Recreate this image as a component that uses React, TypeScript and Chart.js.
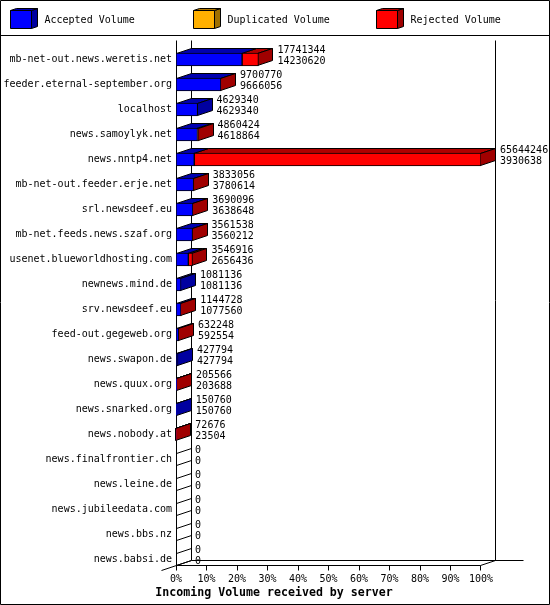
import { useEffect, useRef } from "react";
import { Chart, registerables } from "chart.js";

Chart.register(...registerables);

const servers = [
  "mb-net-out.news.weretis.net",
  "feeder.eternal-september.org",
  "localhost",
  "news.samoylyk.net",
  "news.nntp4.net",
  "mb-net-out.feeder.erje.net",
  "srl.newsdeef.eu",
  "mb-net.feeds.news.szaf.org",
  "usenet.blueworldhosting.com",
  "newnews.mind.de",
  "srv.newsdeef.eu",
  "feed-out.gegeweb.org",
  "news.swapon.de",
  "news.quux.org",
  "news.snarked.org",
  "news.nobody.at",
  "news.finalfrontier.ch",
  "news.leine.de",
  "news.jubileedata.com",
  "news.bbs.nz",
  "news.babsi.de",
];

// Upper number next to each bar
const totalVolume = [
  17741344, 9700770, 4629340, 4860424, 65644246, 3833056, 3690096, 3561538, 3546916, 1081136, 1144728,
  632248, 427794, 205566, 150760, 72676, 0, 0, 0, 0, 0,
];
// Lower number next to each bar
const acceptedVolume = [
  14230620, 9666056, 4629340, 4618864, 3930638, 3780614, 3638648, 3560212, 2656436, 1081136, 1077560,
  592554, 427794, 203688, 150760, 23504, 0, 0, 0, 0, 0,
];
const duplicatedVolume = [0, 0, 0, 0, 0, 0, 0, 0, 0, 0, 0, 0, 0, 0, 0, 0, 0, 0, 0, 0, 0];
const rejectedVolume = [
  3510724, 34714, 0, 241560, 61713608, 52442, 51448, 1326, 890480, 0, 67168, 39694, 0, 1878, 0, 49172, 0, 0, 0, 0,
  0,
];

const TITLE = "Incoming Volume received by server";
const FONT = '"DejaVu Sans Mono", monospace';
const DEPTH_X = 15;
const DEPTH_Y = 5;
const FRONT = ["#0000ff", "#ffb000", "#ff0000"];
const TOP = ["#0000b0", "#b07800", "#b00000"];
const SIDE = ["#0000a0", "#a07000", "#a00000"];

function face(ctx: CanvasRenderingContext2D, pts: number[][], fill: string) {
  ctx.beginPath();
  pts.forEach(([x, y], i) => (i ? ctx.lineTo(x, y) : ctx.moveTo(x, y)));
  ctx.closePath();
  ctx.fillStyle = fill;
  ctx.fill();
  ctx.strokeStyle = "#000";
  ctx.lineWidth = 1;
  ctx.stroke();
}

// Hide zero-length bars so they leave no stray pixels on the wall
const ifNonZero = (color: string) => (c: any) => (c.raw === 0 ? "transparent" : color);

// Walls, floor, x tick marks, frame and legend go under the bars
const backdrop = {
  id: "backdrop",
  beforeDatasetsDraw(chart: any) {
    const { ctx, chartArea, scales } = chart;
    const left = chartArea.left + 0.5;
    const right = chartArea.right - 0.5;
    const floor = chartArea.bottom - 6.5;
    const top = 40.5;
    ctx.save();
    ctx.strokeStyle = "#000";
    ctx.lineWidth = 1;
    ctx.beginPath();
    // frame
    ctx.rect(0.5, 0.5, chart.width - 1, chart.height - 1);
    ctx.moveTo(0, 35.5);
    ctx.lineTo(chart.width, 35.5);
    // left wall, back wall, right wall
    ctx.moveTo(left, top);
    ctx.lineTo(left, floor);
    ctx.moveTo(left + DEPTH_X, top);
    ctx.lineTo(left + DEPTH_X, floor - DEPTH_Y);
    ctx.moveTo(right + DEPTH_X, top);
    ctx.lineTo(right + DEPTH_X, floor - DEPTH_Y);
    // floor
    ctx.moveTo(left + DEPTH_X, floor - DEPTH_Y);
    ctx.lineTo(right + DEPTH_X + 28, floor - DEPTH_Y);
    ctx.moveTo(left - DEPTH_X, floor + DEPTH_Y);
    ctx.lineTo(left + DEPTH_X, floor - DEPTH_Y);
    ctx.moveTo(right, floor);
    ctx.lineTo(right + DEPTH_X, floor - DEPTH_Y);
    ctx.moveTo(left, floor);
    ctx.lineTo(right, floor);
    // x tick marks
    scales.x.ticks.forEach((t: any) => {
      const x = Math.round(scales.x.getPixelForValue(t.value) - 0.5) + 0.5;
      ctx.moveTo(Math.min(x, right), floor);
      ctx.lineTo(Math.min(x, right), floor + 5);
    });
    ctx.stroke();

    // legend
    ctx.font = `10px ${FONT}`;
    ctx.textBaseline = "middle";
    chart.data.datasets.forEach((ds: any, i: number) => {
      const x = [10.5, 193.5, 376.5][i];
      face(ctx, [[x + 21, 10.5], [x + 27, 8.5], [x + 27, 26.5], [x + 21, 28.5]], SIDE[i]);
      face(ctx, [[x, 10.5], [x + 6, 8.5], [x + 27, 8.5], [x + 21, 10.5]], TOP[i]);
      face(ctx, [[x, 10.5], [x + 21, 10.5], [x + 21, 28.5], [x, 28.5]], FRONT[i]);
      ctx.fillStyle = "#000";
      ctx.fillText(ds.label, x + 34, 20.5);
    });

    // depth faces of every bar
    const accepted = chart.getDatasetMeta(0).data;
    const rejected = chart.getDatasetMeta(2).data;
    servers.forEach((_, i) => {
      const y = accepted[i].y;
      const t = y - 6;
      const b = y + 6;
      const x0 = left;
      const x1 = accepted[i].x;
      const x2 = rejected[i].x;
      const hasRejected = rejectedVolume[i] > 0;
      const end = Math.round(hasRejected ? x2 : x1) - 0.5;
      if (totalVolume[i] === 0) {
        ctx.beginPath();
        ctx.moveTo(x0, t);
        ctx.lineTo(x0 + DEPTH_X, t - DEPTH_Y);
        ctx.moveTo(x0, b);
        ctx.lineTo(x0 + DEPTH_X, b - DEPTH_Y);
        ctx.stroke();
        return;
      }
      const mid = Math.round(x1) - 0.5;
      if (hasRejected) {
        face(ctx, [[mid, t], [mid + DEPTH_X, t - DEPTH_Y], [end + DEPTH_X, t - DEPTH_Y], [end, t]], TOP[2]);
      }
      face(ctx, [[x0, t], [x0 + DEPTH_X, t - DEPTH_Y], [mid + DEPTH_X, t - DEPTH_Y], [mid, t]], TOP[0]);
      face(ctx, [[end, t], [end + DEPTH_X, t - DEPTH_Y], [end + DEPTH_X, b - DEPTH_Y], [end, b]], SIDE[hasRejected ? 2 : 0]);
    });
    ctx.restore();
  },
  afterDatasetsDraw(chart: any) {
    const { ctx, chartArea } = chart;
    const accepted = chart.getDatasetMeta(0).data;
    const rejected = chart.getDatasetMeta(2).data;
    ctx.save();
    ctx.font = `10px ${FONT}`;
    ctx.fillStyle = "#000";
    ctx.textBaseline = "middle";
    servers.forEach((_, i) => {
      const end = totalVolume[i] === 0 ? chartArea.left : Math.max(accepted[i].x, rejected[i].x);
      const x = end + DEPTH_X + 4;
      ctx.fillText(String(totalVolume[i]), x, accepted[i].y - 9);
      ctx.fillText(String(acceptedVolume[i]), x, accepted[i].y + 2);
    });
    // the title is centred on the page, not on the plot
    ctx.font = `bold 11.6px ${FONT}`;
    ctx.textAlign = "center";
    ctx.fillText(TITLE, 274, 593);
    ctx.restore();
  },
};

export default function App() {
  const chartRef = useRef<HTMLCanvasElement>(null);

  useEffect(() => {
    document.body.style.margin = "0";
    if (!chartRef.current) return;
    const maxVolume = 65644246;
    const barStyle = (i: number) => ({
      backgroundColor: ifNonZero(FRONT[i]),
      borderColor: ifNonZero("#000"),
    });

    const chart = new Chart(chartRef.current, {
      type: "bar",
      data: {
        labels: servers,
        datasets: [
          { label: "Accepted Volume", data: acceptedVolume, ...barStyle(0) },
          { label: "Duplicated Volume", data: duplicatedVolume, ...barStyle(1) },
          { label: "Rejected Volume", data: rejectedVolume, ...barStyle(2) },
        ],
      },
      options: {
        indexAxis: "y",
        responsive: false,
        animation: false,
        devicePixelRatio: 1,
        layout: { padding: { top: 47, right: 69, left: 0, bottom: 0 } },
        datasets: {
          bar: { barThickness: 13, borderWidth: 1, borderSkipped: false, stack: "volume" },
        },
        plugins: {
          legend: { display: false },
          tooltip: { enabled: false },
        },
        scales: {
          x: {
            type: "linear",
            stacked: true,
            min: 0,
            max: maxVolume,
            afterBuildTicks: (axis: any) => {
              axis.ticks = [0, 10, 20, 30, 40, 50, 60, 70, 80, 90, 100].map((p) => ({ value: (p / 100) * maxVolume }));
            },
            afterFit: (axis: any) => {
              axis.height = 33;
            },
            grid: { display: false, drawTicks: false },
            border: { display: false },
            ticks: {
              autoSkip: false,
              maxRotation: 0,
              padding: 1,
              color: "#000",
              font: { family: FONT, size: 10 },
              callback: (v: any) => `${Math.round((Number(v) / maxVolume) * 100)}%`,
            },
          },
          y: {
            stacked: true,
            afterFit: (axis: any) => {
              axis.width = 176;
            },
            grid: { display: false, drawTicks: false },
            border: { display: false },
            ticks: {
              autoSkip: false,
              padding: 4,
              color: "#000",
              font: { family: FONT, size: 10 },
            },
          },
        },
      },
      plugins: [backdrop],
    } as any);

    return () => chart.destroy();
  }, []);

  return <canvas ref={chartRef} width={550} height={605} style={{ display: "block", background: "#fff" }} />;
}
